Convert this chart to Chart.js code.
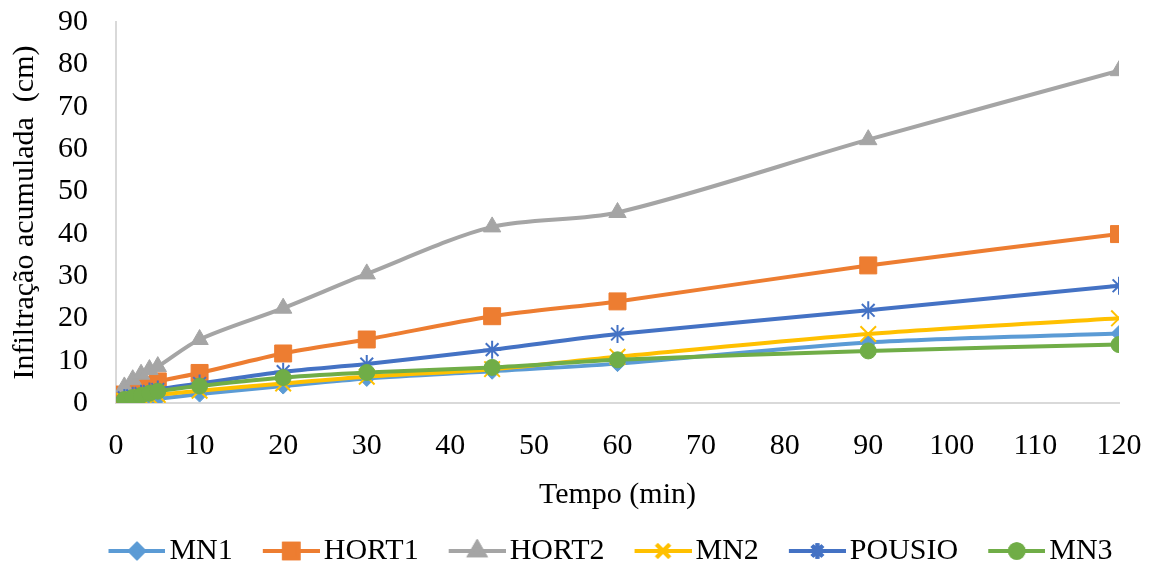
<!DOCTYPE html>
<html>
<head>
<meta charset="utf-8">
<script src="https://cdn.jsdelivr.net/npm/chart.js@4"></script>
<style>
  html, body { margin: 0; padding: 0; background: #fff; }
  #wrap { width: 1153px; height: 568px; }
</style>
</head>
<body>
<div id="wrap"><canvas id="infChart"></canvas></div>
<script>
// time (min) for each reading
const tempo = [1, 2, 3, 4, 5, 10, 20, 30, 45, 60, 90, 120];

// accumulated infiltration (cm) per plot
const mn1    = [0.2, 0.4, 0.6, 0.8, 1.0, 2.1, 4.0, 5.8, 7.5, 9.3, 14.3, 16.4];
const hort1  = [2.0, 2.8, 3.5, 4.3, 5.1, 7.1, 11.7, 15.0, 20.5, 24.0, 32.5, 39.9];
const hort2  = [3.8, 5.5, 6.8, 7.9, 8.6, 15.0, 22.4, 30.5, 41.6, 45.0, 62.2, 78.5];
const mn2    = [0.5, 0.9, 1.3, 1.6, 1.9, 2.9, 4.6, 6.2, 8.0, 10.9, 16.3, 20.0];
const pousio = [1.2, 1.7, 2.2, 2.7, 3.2, 4.6, 7.4, 9.2, 12.6, 16.3, 21.9, 27.7];
const mn3    = [0.8, 1.3, 1.8, 2.3, 2.8, 4.0, 6.0, 7.2, 8.4, 10.2, 12.3, 13.8];

const seriesNames = ['MN1', 'HORT1', 'HORT2', 'MN2', 'POUSIO', 'MN3'];
const seriesData = [mn1, hort1, hort2, mn2, pousio, mn3];
const colors = ['#5B9BD5', '#ED7D31', '#A5A5A5', '#FFC000', '#4472C4', '#70AD47'];
const markers = ['rectRot', 'rect', 'triangle', 'crossRot', 'star', 'circle'];
const radii = [8, 12, 10, 11, 9, 8];

const FONT = "'Liberation Serif', 'Times New Roman', serif";
const FS = 30;

// legend symbol: line + marker, drawn on the right part of a wider canvas
// so there is room before it and almost no gap before the text
const SYM_W = 59;
function legendSymbol(i) {
    const c = document.createElement('canvas');
    c.width = SYM_W + 22;
    c.height = 24;
    const g = c.getContext('2d');
    const x0 = c.width - 57, xc = c.width - 28.5;
    g.strokeStyle = colors[i];
    g.lineWidth = 4;
    g.beginPath();
    g.moveTo(x0, 12);
    g.lineTo(c.width, 12);
    g.stroke();
    const thin = markers[i] === 'crossRot' || markers[i] === 'star';
    Chart.helpers.drawPoint(g, {
        pointStyle: markers[i],
        radius: radii[i] * 0.85,
        borderWidth: thin ? 1.5 : 1
    }, xc, 12);
    g.fillStyle = colors[i];
    g.fill();
    g.stroke();
    return c;
}

const datasets = seriesNames.map((name, i) => ({
    label: name,
    data: tempo.map((t, k) => ({ x: t, y: seriesData[i][k] })),
    borderColor: colors[i],
    backgroundColor: colors[i],
    borderWidth: 4,
    pointStyle: markers[i],
    pointRadius: radii[i],
    pointBorderWidth: (markers[i] === 'crossRot' || markers[i] === 'star') ? 2 : 1,
    tension: 0.3,
    order: seriesNames.length - i   // later series on top, like the original
}));

new Chart(document.getElementById('infChart'), {
    type: 'line',
    data: { datasets: datasets },
    options: {
        responsive: true,
        maintainAspectRatio: false,
        animation: false,
        layout: { padding: { top: 0, right: -48, left: 7, bottom: -8 } },
        plugins: {
            tooltip: { enabled: false },
            legend: {
                position: 'bottom',
                labels: {
                    color: '#000',
                    font: { family: FONT, size: FS },
                    usePointStyle: true,
                    pointStyleWidth: SYM_W,
                    padding: 17,
                    sort: (a, b) => a.datasetIndex - b.datasetIndex,
                    generateLabels: (chart) => chart.data.datasets.map((ds, i) => ({
                        text: ds.label,
                        datasetIndex: i,
                        pointStyle: legendSymbol(i),
                        fillStyle: colors[i],
                        strokeStyle: colors[i],
                        lineWidth: 0,
                        fontColor: '#000'
                    }))
                }
            }
        },
        scales: {
            x: {
                type: 'linear',
                min: 0,
                max: 120,
                afterFit: (scale) => { scale.paddingRight = 34; },
                ticks: {
                    stepSize: 10,
                    autoSkip: false,
                    color: '#000',
                    font: { family: FONT, size: FS },
                    padding: 25,
                    maxRotation: 0
                },
                grid: { display: false, drawTicks: false },
                border: { display: true, color: '#d9d9d9', width: 2 },
                title: {
                    display: true,
                    text: 'Tempo (min)',
                    color: '#000',
                    font: { family: FONT, size: FS },
                    padding: { top: -12, bottom: 6 }
                }
            },
            y: {
                min: 0,
                max: 90,
                afterFit: (scale) => {
                    scale.width = 109;
                    scale.paddingTop = 22;
                },
                ticks: {
                    stepSize: 10,
                    autoSkip: false,
                    color: '#000',
                    font: { family: FONT, size: FS },
                    padding: 28
                },
                grid: { display: false, drawTicks: false },
                border: { display: true, color: '#d9d9d9', width: 2 },
                title: {
                    display: true,
                    text: 'Infiltração acumulada  (cm)',
                    color: '#000',
                    font: { family: FONT, size: FS },
                    padding: { top: 0, bottom: 4 }
                }
            }
        }
    }
});
</script>
</body>
</html>
